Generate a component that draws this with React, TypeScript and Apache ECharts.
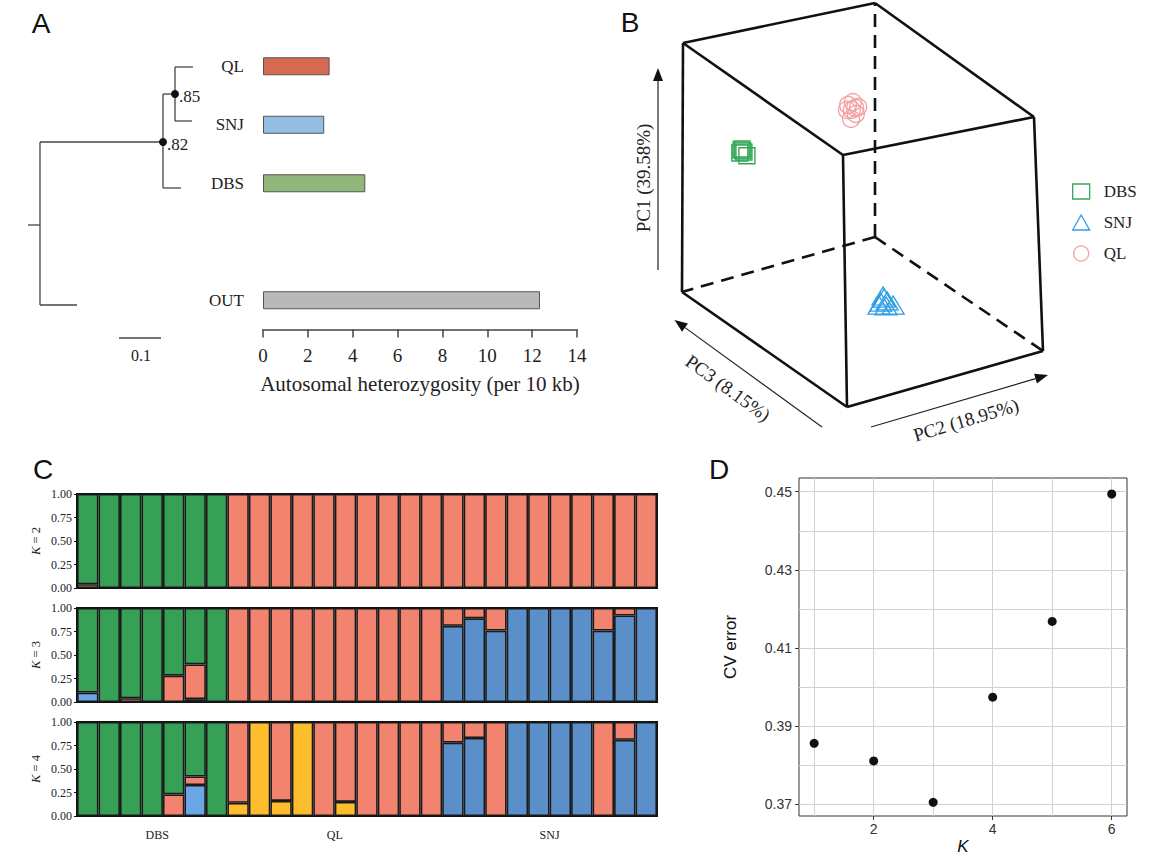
import React, { useEffect, useRef } from "react";
import * as echarts from "echarts";

const SERIF = "'Liberation Serif', 'Times New Roman', Times, serif";
const SANS = "'Liberation Sans', Arial, Helvetica, sans-serif";

// ---------------- Panel A: heterozygosity ----------------
const hetCategories = ["QL", "SNJ", "DBS", "", "OUT"];
const hetValues = [2.97, 2.73, 4.56, null, 12.35];
const hetColors = ["#d56a51", "#94bee1", "#90b679", "transparent", "#b9b9b9"];

// ---------------- Panel B: PCA (projected view coordinates) ----------------
const pcaDBS = [
  [18.0, 63.4],
  [18.5, 63.2],
  [19.6, 62.0],
  [17.7, 62.7],
  [18.3, 63.7],
  [18.8, 62.9],
];
const pcaSNJ = [
  [56.5, 27.3],
  [55.6, 26.3],
  [57.3, 26.6],
  [58.9, 25.6],
  [55.1, 25.6],
  [57.0, 25.4],
  [56.2, 27.8],
];
const pcaQL = [
  [46.8, 74.4],
  [48.1, 75.1],
  [49.5, 73.9],
  [47.8, 73.2],
  [48.9, 72.2],
  [47.6, 71.0],
  [46.5, 73.2],
  [48.7, 73.7],
];

// ---------------- Panel C: admixture ----------------
const groupNames = ["DBS", "QL", "SNJ"];
const groupSizes = [7, 10, 10];
const individuals: string[] = [];
groupNames.forEach((g, gi) => {
  for (let i = 1; i <= groupSizes[gi]; i++) individuals.push(g + i);
});

const k2Pink = [0.04, 0, 0, 0, 0, 0, 0, 1, 1, 1, 1, 1, 1, 1, 1, 1, 1, 1, 1, 1, 1, 1, 1, 1, 1, 1, 1];
const k2Green = [0.96, 1, 1, 1, 1, 1, 1, 0, 0, 0, 0, 0, 0, 0, 0, 0, 0, 0, 0, 0, 0, 0, 0, 0, 0, 0, 0];

const k3Blue = [0.1, 0, 0, 0, 0, 0.03, 0, 0, 0, 0, 0, 0, 0, 0, 0, 0, 0, 0.81, 0.89, 0.76, 1, 1, 1, 1, 0.76, 0.92, 1];
const k3Pink = [0, 0, 0.04, 0, 0.28, 0.37, 0, 1, 1, 1, 1, 1, 1, 1, 1, 1, 1, 0.19, 0.11, 0.24, 0, 0, 0, 0, 0.24, 0.08, 0];
const k3Green = [0.9, 1, 0.96, 1, 0.72, 0.6, 1, 0, 0, 0, 0, 0, 0, 0, 0, 0, 0, 0, 0, 0, 0, 0, 0, 0, 0, 0, 0];

const k4Yellow = [0, 0, 0, 0, 0, 0, 0, 0.14, 1, 0.16, 1, 0, 0.15, 0, 0, 0, 0, 0, 0, 0, 0, 0, 0, 0, 0, 0, 0];
const k4Blue = [0, 0, 0, 0, 0, 0.33, 0, 0, 0, 0, 0, 0, 0, 0, 0, 0, 0, 0.78, 0.83, 0, 1, 1, 1, 1, 0, 0.81, 1];
const k4Pink = [0, 0, 0, 0, 0.23, 0.09, 0, 0.86, 0, 0.84, 0, 1, 0.85, 1, 1, 1, 1, 0.22, 0.17, 1, 0, 0, 0, 0, 1, 0.19, 0];
const k4Green = [1, 1, 1, 1, 0.77, 0.58, 1, 0, 0, 0, 0, 0, 0, 0, 0, 0, 0, 0, 0, 0, 0, 0, 0, 0, 0, 0, 0];

// ---------------- Panel D: CV error ----------------
const cvK = [1, 2, 3, 4, 5, 6];
const cvError = [0.3856, 0.3811, 0.3705, 0.3974, 0.4168, 0.4494];
const cvXLabels = [2, 4, 6];
const cvYLabels = [0.37, 0.39, 0.41, 0.43, 0.45];

// colours
const C_GREEN = "#36a056";
const C_PINK = "#f1836f";
const C_BLUE = "#5b8fca";
const C_LBLUE = "#6ba6e6";
const C_YELLOW = "#fdbd2c";
const P_DBS = "#34a857";
const P_SNJ = "#2d9de3";
const P_QL = "#f4a0a0";

function arrow(x1: number, y1: number, x2: number, y2: number) {
  const dx = x2 - x1, dy = y2 - y1;
  const L = Math.hypot(dx, dy);
  const ux = dx / L, uy = dy / L;
  const hl = 13, hw = 5;
  const bx = x2 - ux * hl, by = y2 - uy * hl;
  return [
    { type: "line", shape: { x1, y1, x2: bx, y2: by }, style: { stroke: "#222", lineWidth: 1.2 } },
    {
      type: "polygon",
      shape: { points: [[x2, y2], [bx - uy * hw, by + ux * hw], [bx + uy * hw, by - ux * hw]] },
      style: { fill: "#111" },
    },
  ];
}

function seg(x1: number, y1: number, x2: number, y2: number, style: any) {
  return { type: "line", shape: { x1, y1, x2, y2 }, style };
}

export default function App() {
  const ref = useRef<HTMLDivElement>(null);

  useEffect(() => {
    if (!ref.current) return;
    const chart = echarts.init(ref.current, undefined, { renderer: "svg" });

    const nz = (arr: number[], light?: boolean) =>
      arr.map((v, i) => (v === 0 ? "-" : light && i < 7 ? { value: v, itemStyle: { color: C_LBLUE } } : v));

    const barBase = {
      type: "bar",
      barCategoryGap: "0%",
      itemStyle: { borderColor: "#1a1a1a", borderWidth: 1.6 },
      silent: true,
    };
    const admix = (idx: number, stack: string, parts: { data: any[]; color: string }[]) =>
      parts.map((p) => ({
        ...barBase,
        xAxisIndex: idx,
        yAxisIndex: idx,
        stack,
        data: p.data,
        itemStyle: { ...barBase.itemStyle, color: p.color },
      }));

    // tree + labels
    const treeStyle = { stroke: "#444", lineWidth: 1.3 };
    const treeEls: any[] = [
      seg(28, 225, 40, 225, treeStyle),
      seg(40, 142, 40, 305, treeStyle),
      seg(40, 142, 163, 142, treeStyle),
      seg(40, 305, 77, 305, treeStyle),
      seg(163, 94, 163, 188, treeStyle),
      seg(163, 188, 181, 188, treeStyle),
      seg(163, 94, 175, 94, treeStyle),
      seg(175, 67, 175, 121, treeStyle),
      seg(175, 67, 193, 67, treeStyle),
      seg(175, 121, 192, 121, treeStyle),
      seg(119, 338, 161, 338, treeStyle),
      { type: "circle", shape: { cx: 163, cy: 142, r: 4 }, style: { fill: "#111" } },
      { type: "circle", shape: { cx: 175, cy: 94, r: 4 }, style: { fill: "#111" } },
      { type: "text", x: 167, y: 144, style: { text: ".82", fontSize: 17, fontFamily: SERIF, fill: "#222", align: "left", verticalAlign: "middle" } },
      { type: "text", x: 179, y: 96, style: { text: ".85", fontSize: 17, fontFamily: SERIF, fill: "#222", align: "left", verticalAlign: "middle" } },
      { type: "text", x: 141, y: 355, style: { text: "0.1", fontSize: 16, fontFamily: SERIF, fill: "#222", align: "center", verticalAlign: "middle" } },
    ];

    // 3D box
    const solid = { stroke: "#111", lineWidth: 2.6 };
    const dashed = { stroke: "#111", lineWidth: 2.6, lineDash: [13, 8] };
    const T = { a: [683, 43], b: [875, 3], c: [1034, 117], d: [843, 155] };
    const Bt = { a: [682, 292], b: [875, 237], c: [1043, 351], d: [847, 407] };
    const L = (p: number[], q: number[], s: any) => seg(p[0], p[1], q[0], q[1], s);
    const boxEls: any[] = [
      L(Bt.b, T.b, dashed),
      L(Bt.b, Bt.a, dashed),
      L(Bt.b, Bt.c, dashed),
      L(T.a, T.b, solid),
      L(T.b, T.c, solid),
      L(T.c, T.d, solid),
      L(T.d, T.a, solid),
      L(T.a, Bt.a, solid),
      L(T.d, Bt.d, solid),
      L(T.c, Bt.c, solid),
      L(Bt.a, Bt.d, solid),
      L(Bt.d, Bt.c, solid),
      ...arrow(658, 270, 658, 68),
      ...arrow(822, 427, 674.5, 320),
      ...arrow(871, 427, 1048, 375),
      { type: "text", x: 643, y: 178, rotation: Math.PI / 2, style: { text: "PC1 (39.58%)", fontSize: 19, fontFamily: SERIF, fill: "#222", align: "center", verticalAlign: "middle" } },
      { type: "text", x: 728, y: 388, rotation: -0.627, style: { text: "PC3 (8.15%)", fontSize: 19, fontFamily: SERIF, fill: "#222", align: "center", verticalAlign: "middle" } },
      { type: "text", x: 966, y: 420, rotation: 0.288, style: { text: "PC2 (18.95%)", fontSize: 19, fontFamily: SERIF, fill: "#222", align: "center", verticalAlign: "middle" } },
    ];

    const letter = (t: string, x: number, y: number) => ({
      type: "text",
      x,
      y,
      style: { text: t, fontSize: 28, fontFamily: SANS, fill: "#111", align: "center", verticalAlign: "middle" },
    });

    const hiddenAxis = { show: false };
    const catC = (gi: number) => ({
      gridIndex: gi,
      type: "category",
      data: individuals,
      position: "bottom",
      axisLine: { show: false },
      axisTick: { show: false },
      axisLabel: { show: false },
      splitLine: { show: false },
    });
    const yC = (gi: number, k: number) => ({
      gridIndex: gi,
      type: "value",
      min: 0,
      max: 1,
      interval: 0.25,
      axisLine: { show: false },
      axisTick: { show: true, length: 3, lineStyle: { color: "#111", width: 1 } },
      axisLabel: { fontSize: 12, fontFamily: SERIF, color: "#222", margin: 5, formatter: (v: number) => v.toFixed(2) },
      splitLine: { show: false },
      name: "{i|K} = " + k,
      nameLocation: "middle",
      nameRotate: 90,
      nameGap: 35,
      nameTextStyle: { fontSize: 12.5, fontFamily: SERIF, color: "#222", rich: { i: { fontStyle: "italic", fontSize: 12.5, fontFamily: SERIF, color: "#222" } } },
    });

    const groupCenters: number[] = [];
    let acc = 0;
    groupSizes.forEach((n) => {
      groupCenters.push(acc + n / 2);
      acc += n;
    });

    const hollow = (c: string, w: number) => ({ color: "rgba(0,0,0,0)", borderColor: c, borderWidth: w, opacity: 1 });

    const option: any = {
      animation: false,
      backgroundColor: "#fff",
      grid: [
        { left: 263, top: 37, width: 314, height: 292.5, outerBoundsMode: "none" },
        { left: 674, top: 0, width: 372, height: 410, outerBoundsMode: "none" },
        { left: 77, top: 494, width: 580, height: 94, show: true, borderColor: "#111", borderWidth: 2, backgroundColor: "transparent", outerBoundsMode: "none" },
        { left: 77, top: 608, width: 580, height: 94, show: true, borderColor: "#111", borderWidth: 2, backgroundColor: "transparent", outerBoundsMode: "none" },
        { left: 77, top: 722, width: 580, height: 94, show: true, borderColor: "#111", borderWidth: 2, backgroundColor: "transparent", outerBoundsMode: "none" },
        { left: 799, top: 478, width: 328, height: 338, show: true, borderColor: "#333", borderWidth: 1, backgroundColor: "transparent", outerBoundsMode: "none" },
      ],
      xAxis: [
        {
          gridIndex: 0,
          type: "value",
          min: 0,
          max: 14,
          interval: 2,
          axisLine: { show: true, lineStyle: { color: "#444", width: 1.5 } },
          axisTick: { show: true, length: 8, lineStyle: { color: "#444", width: 1.5 } },
          axisLabel: { fontSize: 19, fontFamily: SERIF, color: "#222", margin: 16 },
          splitLine: { show: false },
          name: "Autosomal heterozygosity (per 10 kb)",
          nameLocation: "middle",
          nameGap: 44,
          nameTextStyle: { fontSize: 21, fontFamily: SERIF, color: "#222" },
        },
        { gridIndex: 1, type: "value", min: 0, max: 100, ...hiddenAxis },
        catC(2),
        catC(3),
        catC(4),
        {
          gridIndex: 4,
          type: "value",
          min: 0,
          max: individuals.length,
          position: "bottom",
          axisLine: { show: false },
          axisTick: { show: false },
          splitLine: { show: false },
          axisLabel: {
            customValues: groupCenters,
            fontSize: 12,
            fontFamily: SERIF,
            color: "#222",
            margin: 13,
            formatter: (v: number) => {
              const gi = groupCenters.findIndex((c) => Math.abs(c - v) < 1e-6);
              if (gi < 0) return "";
              return gi === 0 ? "{d|" + groupNames[gi] + "}" : groupNames[gi];
            },
            rich: { d: { fontSize: 12, fontFamily: SERIF, color: "#222", padding: [0, 0, 0, 10] } },
          },
        },
        {
          gridIndex: 5,
          type: "value",
          min: 0.745,
          max: 6.257,
          splitNumber: 5,
          position: "bottom",
          axisLine: { show: false },
          axisTick: { show: false },
          axisLabel: { show: false },
          splitLine: { show: true, showMinLine: false, showMaxLine: false, lineStyle: { color: "#d2d2d2", width: 1 } },
        },
        {
          gridIndex: 5,
          type: "value",
          min: 0.745,
          max: 6.257,
          position: "bottom",
          axisLine: { show: false },
          axisTick: { show: true, length: 4, customValues: cvXLabels, lineStyle: { color: "#333" } },
          axisLabel: { customValues: cvXLabels, fontSize: 14, fontFamily: SANS, color: "#333", margin: 6 },
          splitLine: { show: false },
          name: "K",
          nameLocation: "middle",
          nameGap: 22,
          nameTextStyle: { fontSize: 17, fontStyle: "italic", fontFamily: SANS, color: "#111" },
        },
      ],
      yAxis: [
        {
          gridIndex: 0,
          type: "category",
          inverse: true,
          data: hetCategories,
          axisLine: { show: false },
          axisTick: { show: false },
          axisLabel: { fontSize: 17, fontFamily: SERIF, color: "#222", margin: 19 },
        },
        { gridIndex: 1, type: "value", min: 0, max: 100, ...hiddenAxis },
        yC(2, 2),
        yC(3, 3),
        yC(4, 4),
        {
          gridIndex: 5,
          type: "value",
          min: 0.367,
          max: 0.4535,
          splitNumber: 9,
          axisLine: { show: false },
          axisTick: { show: false },
          axisLabel: { show: false },
          splitLine: { show: true, showMinLine: false, showMaxLine: false, lineStyle: { color: "#d2d2d2", width: 1 } },
        },
        {
          gridIndex: 5,
          type: "value",
          min: 0.367,
          max: 0.4535,
          position: "left",
          axisLine: { show: false },
          axisTick: { show: true, length: 4, customValues: cvYLabels, lineStyle: { color: "#333" } },
          axisLabel: { customValues: cvYLabels, fontSize: 14, fontFamily: SANS, color: "#333", margin: 7, formatter: (v: number) => v.toFixed(2) },
          splitLine: { show: false },
          name: "CV error",
          nameLocation: "middle",
          nameGap: 60,
          nameTextStyle: { fontSize: 17, fontFamily: SANS, color: "#111" },
        },
      ],
      legend: {
        orient: "vertical",
        left: 1067,
        top: 178,
        itemWidth: 17,
        itemHeight: 15,
        itemGap: 14,
        textStyle: { fontSize: 17, fontFamily: SERIF, color: "#222", padding: [0, 0, 0, 9] },
        data: [
          { name: "DBS", icon: "rect", itemStyle: hollow(P_DBS, 1.3) },
          { name: "SNJ", icon: "triangle", itemStyle: hollow(P_SNJ, 1.3) },
          { name: "QL", icon: "circle", itemStyle: hollow(P_QL, 1.3) },
        ],
      },
      series: [
        {
          type: "bar",
          xAxisIndex: 0,
          yAxisIndex: 0,
          barWidth: 18,
          silent: true,
          data: hetValues.map((v, i) => (v === null ? "-" : { value: v, itemStyle: { color: hetColors[i] } })),
          itemStyle: { borderColor: "#555", borderWidth: 1 },
        },
        {
          name: "DBS",
          type: "scatter",
          xAxisIndex: 1,
          yAxisIndex: 1,
          symbol: "rect",
          symbolSize: 16,
          data: pcaDBS,
          itemStyle: hollow(P_DBS, 1.4),
        },
        {
          name: "SNJ",
          type: "scatter",
          xAxisIndex: 1,
          yAxisIndex: 1,
          symbol: "triangle",
          symbolSize: [22, 18],
          data: pcaSNJ,
          itemStyle: hollow(P_SNJ, 1.3),
        },
        {
          name: "QL",
          type: "scatter",
          xAxisIndex: 1,
          yAxisIndex: 1,
          symbol: "circle",
          symbolSize: 17,
          data: pcaQL,
          itemStyle: hollow(P_QL, 1.3),
        },
        ...admix(2, "k2", [
          { data: nz(k2Pink), color: C_PINK },
          { data: nz(k2Green), color: C_GREEN },
        ]),
        ...admix(3, "k3", [
          { data: nz(k3Blue, true), color: C_BLUE },
          { data: nz(k3Pink), color: C_PINK },
          { data: nz(k3Green), color: C_GREEN },
        ]),
        ...admix(4, "k4", [
          { data: nz(k4Yellow), color: C_YELLOW },
          { data: nz(k4Blue, true), color: C_BLUE },
          { data: nz(k4Pink), color: C_PINK },
          { data: nz(k4Green), color: C_GREEN },
        ]),
        {
          type: "scatter",
          xAxisIndex: 7,
          yAxisIndex: 6,
          symbol: "circle",
          symbolSize: 9,
          data: cvK.map((k, i) => [k, cvError[i]]),
          itemStyle: { color: "#111", opacity: 1 },
        },
      ],
      graphic: {
        elements: [
          ...treeEls,
          ...boxEls,
          letter("A", 41, 23),
          letter("B", 630, 22),
          letter("C", 43, 469),
          letter("D", 719, 469),
        ],
      },
    };

    chart.setOption(option);
    return () => chart.dispose();
  }, []);

  return (
    <div
      ref={ref}
      style={{ position: "absolute", left: 0, top: 0, width: 1170, height: 857, background: "#fff" }}
    />
  );
}
